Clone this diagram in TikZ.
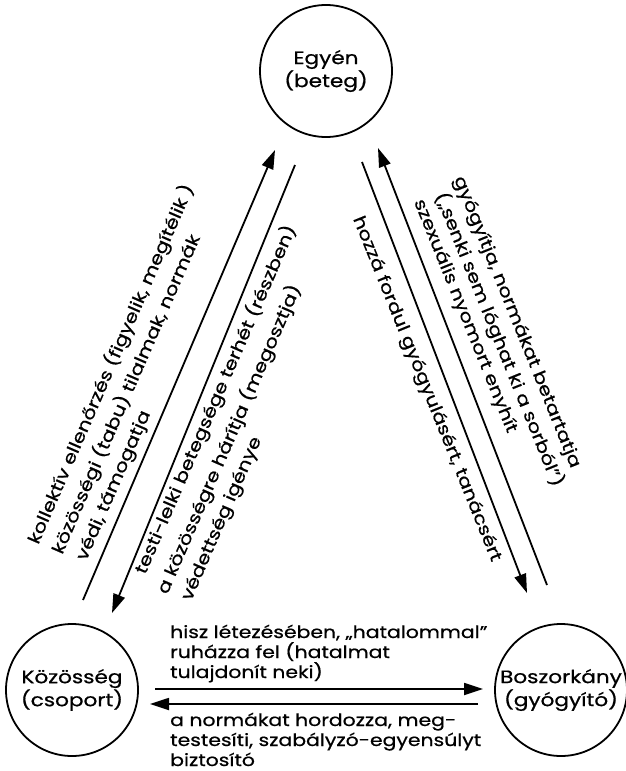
\documentclass[tikz,border=0pt]{standalone}
\usepackage{fontspec}
\setmainfont{Poppins}
\newfontfamily\lett{Poppins}[FakeStretch=1.2,FakeBold=0.7]
\usetikzlibrary{arrows.meta}
\begin{document}
\begin{tikzpicture}[x=1pt,y=1pt,
  ent/.style={circle,draw,line width=1.8pt,minimum size=132pt,inner sep=0pt,align=center,font=\lett\fontsize{18}{23}\selectfont},
  rel/.style={line width=1.8pt,-{Triangle[length=19pt,width=12pt]}},
  lbl/.style={inner sep=0pt,font=\lett\fontsize{17}{20}\selectfont}]
\useasboundingbox (0,0) rectangle (625,-771);
\node[ent] (egyen) at (326,-71) {Egyén\\(beteg)};
\node[ent] (kozosseg) at (72,-690) {Közösség\\(csoport)};
\node[ent] (boszorkany) at (561,-690) {Boszorkány\\(gyógyító)};
% arrow end points
\coordinate (a1s) at (83,-600);  \coordinate (a1e) at (275,-150);
\coordinate (a2s) at (295,-165); \coordinate (a2e) at (112,-613);
\coordinate (a3s) at (362,-162); \coordinate (a3e) at (527,-593);
\coordinate (a4s) at (547,-585); \coordinate (a4e) at (378,-148);
\coordinate (a5s) at (155,-689); \coordinate (a5e) at (483,-689);
\coordinate (a6s) at (478,-704); \coordinate (a6e) at (150,-704);
\draw[rel] (a1s) -- (a1e);
\draw[rel] (a2s) -- (a2e);
\draw[rel] (a3s) -- (a3e);
\draw[rel] (a4s) -- (a4e);
\draw[rel] (a5s) -- (a5e);
\draw[rel] (a6s) -- (a6e);
% left labels
\node[lbl,anchor=west,rotate=66.5] (l1) at (33,-543) {kollektív ellenőrzés (figyelik, megítélik )};
\node[lbl,anchor=west,rotate=66.5] (l2) at (57,-553) {közösségi (tabu) tilalmak, normák};
\node[lbl,anchor=west,rotate=66.5] (l3) at (82,-560) {védi, támogatja};
\node[lbl,anchor=west,rotate=66.5] (m1) at (140,-573) {testi-lelki betegsége terhét (részben)};
\node[lbl,anchor=west,rotate=66.5] (m2) at (162,-593) {a közösségre hárítja (megosztja)};
\node[lbl,anchor=west,rotate=66.5] (m3) at (187,-600) {védettség igénye};
% right labels
\node[lbl,anchor=west,rotate=-68] (h1) at (357,-217) {hozzá fordul gyógyulásért, tanácsért};
\node[lbl,anchor=west,rotate=-68] (r1) at (458,-177) {gyógyítja, normákat betartatja};
\node[lbl,anchor=west,rotate=-68] (r2) at (440,-193) {(„senki sem lóghat ki a sorból”)};
\node[lbl,anchor=west,rotate=-68] (r3) at (418,-200) {szexuális nyomort enyhít};
% bottom labels
\node[lbl,anchor=base west] (b1) at (170,-638) {hisz létezésében, „hatalommal”};
\node[lbl,anchor=base west] (b2) at (170,-658) {ruházza fel (hatalmat};
\node[lbl,anchor=base west] (b3) at (170,-678) {tulajdonít neki)};
\node[lbl,anchor=base west] (c1) at (170,-726) {a normákat hordozza, meg-};
\node[lbl,anchor=base west] (c2) at (170,-746) {testesíti, szabályzó-egyensúlyt};
\node[lbl,anchor=base west] (c3) at (170,-766) {biztosító};
\end{tikzpicture}
\end{document}
